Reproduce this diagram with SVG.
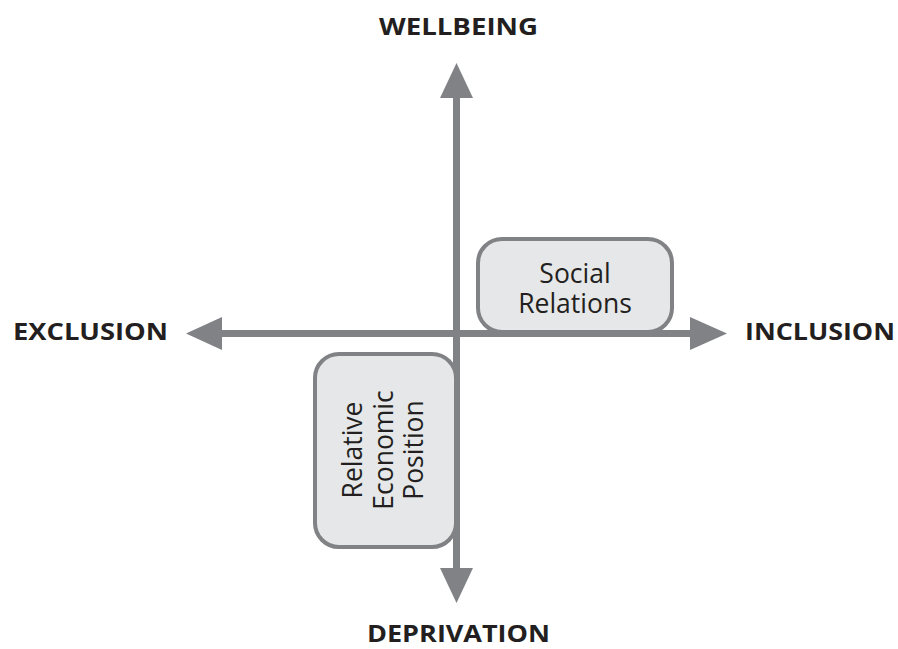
<svg xmlns="http://www.w3.org/2000/svg" width="898" height="649" viewBox="0 0 898 649">
<style>
.lbl{font-family:"Open Sans","Liberation Sans",sans-serif;font-weight:bold;font-size:24px;fill:#231f20}
.box{fill:#e6e7e8;stroke:#808285;stroke-width:4}
.bt{font-family:"Open Sans","Liberation Sans",sans-serif;font-size:26.5px;fill:#231f20;text-anchor:middle}
.ax{stroke:#808285;stroke-width:7;fill:none}
.ah{fill:#808285}
</style>
<rect width="898" height="649" fill="#ffffff"/>
<g id="connectors">
<line class="ax" x1="456.5" y1="95" x2="456.5" y2="571"/>
<line class="ax" x1="219" y1="333.5" x2="693" y2="333.5"/>
<polygon class="ah" points="456.5,63 440,98 473,98"/>
<polygon class="ah" points="456.5,603 440,568 473,568"/>
<polygon class="ah" points="186,333.5 222,317 222,350"/>
<polygon class="ah" points="727,333.5 690,317 690,350"/>
</g>
<g id="social-relations">
<rect class="box" x="478" y="239" width="194" height="93" rx="24"/>
<text class="bt" x="575" y="283">Social</text>
<text class="bt" x="575" y="313">Relations</text>
</g>
<g id="relative-economic-position">
<rect class="box" x="315" y="354" width="141" height="193" rx="24"/>
<g transform="translate(392,450) rotate(-90)">
<text class="bt" x="0" y="-30">Relative</text>
<text class="bt" x="0" y="1">Economic</text>
<text class="bt" x="0" y="31">Position</text>
</g>
</g>
<g id="wellbeing"><text class="lbl" x="379" y="35" textLength="159" lengthAdjust="spacingAndGlyphs">WELLBEING</text></g>
<g id="exclusion"><text class="lbl" x="13" y="340" textLength="155" lengthAdjust="spacingAndGlyphs">EXCLUSION</text></g>
<g id="inclusion"><text class="lbl" x="745" y="340" textLength="150" lengthAdjust="spacingAndGlyphs">INCLUSION</text></g>
<g id="deprivation"><text class="lbl" x="367" y="642" textLength="183" lengthAdjust="spacingAndGlyphs">DEPRIVATION</text></g>
</svg>
